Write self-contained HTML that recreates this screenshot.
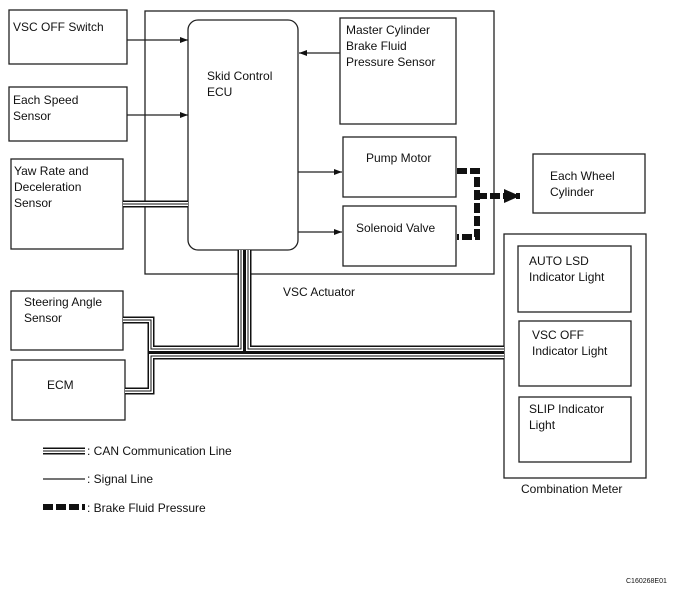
<!DOCTYPE html><html><head><style>body{margin:0;background:#fff}svg{display:block}text{font-family:"Liberation Sans",sans-serif;font-size:12px;fill:#111}</style></head><body>
<svg width="673" height="593" viewBox="0 0 673 593" xmlns="http://www.w3.org/2000/svg">
<defs><marker id="a" markerWidth="8" markerHeight="6" refX="8" refY="3" orient="auto" markerUnits="userSpaceOnUse"><path d="M0,0 L8,3 L0,6z" fill="#111"/></marker>
<marker id="b" markerWidth="16" markerHeight="14" refX="16" refY="7" orient="auto" markerUnits="userSpaceOnUse"><path d="M0,0 L16,7 L0,14z" fill="#111"/></marker></defs>
<g fill="none" stroke="#222" stroke-width="1.3">
<rect x="9" y="10" width="118" height="54"/>
<rect x="9" y="87" width="118" height="54"/>
<rect x="11" y="159" width="112" height="90"/>
<rect x="145" y="11" width="349" height="263"/>
<rect x="188" y="20" width="110" height="230" rx="10"/>
<rect x="340" y="18" width="116" height="106"/>
<rect x="343" y="137" width="113" height="60"/>
<rect x="343" y="206" width="113" height="60"/>
<rect x="533" y="154" width="112" height="59"/>
<rect x="504" y="234" width="142" height="244"/>
<rect x="518" y="246" width="113" height="66"/>
<rect x="519" y="321" width="112" height="65"/>
<rect x="519" y="397" width="112" height="65"/>
<rect x="11" y="291" width="112" height="59"/>
<rect x="12" y="360" width="113" height="60"/>
<path d="M127,40 H188" marker-end="url(#a)"/>
<path d="M127,115 H188" marker-end="url(#a)"/>
<path d="M340,53 H299" marker-end="url(#a)"/>
<path d="M298,172 H342" marker-end="url(#a)"/>
<path d="M298,232 H342" marker-end="url(#a)"/>
<path d="M43,479 H85"/>
</g>
<g fill="none" stroke-linejoin="miter">
<g stroke="#111" stroke-width="7"><path d="M123,204 H188"/><path d="M241,250 V349 H151 V320 H123"/><path d="M248,250 V349 H504"/><path d="M504,356 H151 V391 H125"/><path d="M43,451 H85"/></g>
<g stroke="#fff" stroke-width="4"><path d="M123,204 H188"/><path d="M241,250 V349 H151 V320 H123"/><path d="M248,250 V349 H504"/><path d="M504,356 H151 V391 H125"/><path d="M43,451 H85"/></g>
<g stroke="#111" stroke-width="1"><path d="M123,204 H188"/><path d="M241,250 V349 H151 V320 H123"/><path d="M248,250 V349 H504"/><path d="M504,356 H151 V391 H125"/><path d="M43,451 H85"/></g>
</g>
<g fill="none" stroke="#111" stroke-width="6" stroke-dasharray="10,3">
<path d="M457,171 H477 V237 H457"/>
<path d="M477,196 H520" marker-end="url(#b)"/>
<path d="M43,507 H85"/>
</g>
<text x="13" y="31">VSC OFF Switch</text>
<text x="13" y="104">Each Speed</text><text x="13" y="120">Sensor</text>
<text x="14" y="175">Yaw Rate and</text><text x="14" y="191">Deceleration</text><text x="14" y="207">Sensor</text>
<text x="207" y="80">Skid Control</text><text x="207" y="96">ECU</text>
<text x="346" y="34">Master Cylinder</text><text x="346" y="50">Brake Fluid</text><text x="346" y="66">Pressure Sensor</text>
<text x="366" y="162">Pump Motor</text>
<text x="356" y="232">Solenoid Valve</text>
<text x="550" y="180">Each Wheel</text><text x="550" y="196">Cylinder</text>
<text x="529" y="265">AUTO LSD</text><text x="529" y="281">Indicator Light</text>
<text x="532" y="339">VSC OFF</text><text x="532" y="355">Indicator Light</text>
<text x="529" y="413">SLIP Indicator</text><text x="529" y="429">Light</text>
<text x="24" y="306">Steering Angle</text><text x="24" y="322">Sensor</text>
<text x="47" y="389">ECM</text>
<text x="283" y="296">VSC Actuator</text>
<text x="521" y="493">Combination Meter</text>
<text x="87" y="455">: CAN Communication Line</text>
<text x="87" y="483">: Signal Line</text>
<text x="87" y="512">: Brake Fluid Pressure</text>
<text x="626" y="583" style="font-size:7px">C160268E01</text>
</svg></body></html>
